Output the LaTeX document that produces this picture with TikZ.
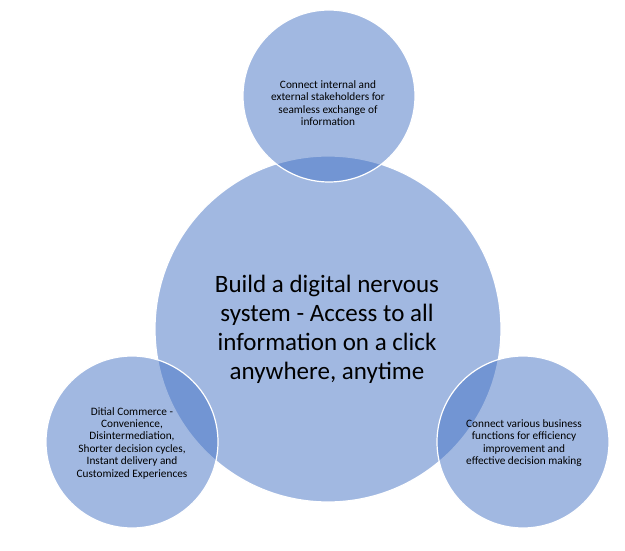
\documentclass[tikz,border=0pt]{standalone}
\usepackage{fontspec}
\setmainfont{Carlito}
\definecolor{accent}{HTML}{4472C4}
\begin{document}
\begin{tikzpicture}[x=1pt,y=-1pt,
  bubble/.style={circle,inner sep=0pt,fill=accent,fill opacity=0.5,text opacity=1,draw=white,line width=1.2pt,align=center},
  bigtext/.style={font=\fontsize{25}{29}\selectfont},
  smalltext/.style={font=\fontsize{11.3}{12.4}\selectfont}]
\useasboundingbox (0,0) rectangle (625,551);
\node[bubble,minimum size=346pt] (core) at (328,329) {};
\node[bubble,minimum size=172pt] (top) at (329,96) {};
\node[bubble,minimum size=172pt] (left) at (132,442) {};
\node[bubble,minimum size=172pt] (right) at (523,442) {};
\node[bigtext,align=center] (coretext) at (327,329) {Build a digital nervous\\system - Access to all\\information on a click\\anywhere, anytime};
\node[smalltext,align=center] (toptext) at (328,103) {Connect internal and\\external stakeholders for\\seamless exchange of\\information};
\node[smalltext,align=center] (lefttext) at (132,443) {Ditial Commerce -\\Convenience,\\Disintermediation,\\Shorter decision cycles,\\Instant delivery and\\Customized Experiences};
\node[smalltext,align=center] (righttext) at (524,443) {Connect various business\\functions for efficiency\\improvement and\\effective decision making};
\end{tikzpicture}
\end{document}
